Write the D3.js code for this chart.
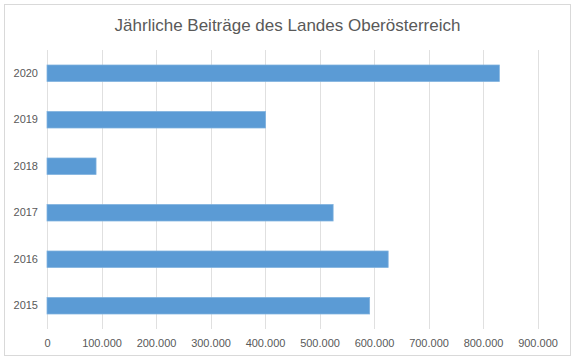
<!DOCTYPE html>
<head>
<meta charset="utf-8">
<style>
  body { margin: 0; background: #fff; }
  svg { display: block; font-family: "Liberation Sans", Arial, sans-serif; }
  text { fill: #595959; }
</style>
</head>
<body>
<svg width="579" height="363"></svg>
<script src="https://cdn.jsdelivr.net/npm/d3@7"></script>
<script>

var title = "Jährliche Beiträge des Landes Oberösterreich";
var years = ["2020", "2019", "2018", "2017", "2016", "2015"];
var values = [830000, 401000, 90000, 525000, 626000, 592000];
var ticks = [0, 100000, 200000, 300000, 400000, 500000, 600000, 700000, 800000, 900000];

var svg = d3.select("svg"),
    margin = {top: 50, right: 33, bottom: 34, left: 47},
    width = +svg.attr("width"),
    height = +svg.attr("height");

// chart frame
svg.append("rect")
    .attr("x", 4.5).attr("y", 4.5)
    .attr("width", 566).attr("height", 351)
    .attr("fill", "#fff")
    .attr("stroke", "#d9d9d9");

svg.append("text")
    .attr("x", 287.5)
    .attr("y", 31)
    .attr("text-anchor", "middle")
    .attr("font-size", 17)
    .text(title);

var x = d3.scaleLinear()
    .domain([0, 900000])
    .range([margin.left, margin.left + 9 * 54.5]);

var y = d3.scaleBand()
    .domain(years)
    .range([margin.top, height - margin.bottom])
    .paddingInner(0.645)
    .paddingOuter(0.3225);

var fmt = function(d) { return d3.format(",")(d).replace(/,/g, "."); };

// gridlines
svg.append("g")
    .selectAll("line")
    .data(ticks)
    .enter().append("line")
      .attr("x1", function(d) { return Math.round(x(d)) + 0.5; })
      .attr("x2", function(d) { return Math.round(x(d)) + 0.5; })
      .attr("y1", margin.top)
      .attr("y2", height - margin.bottom)
      .attr("stroke", "#e0e0e0");

// bars
svg.append("g")
    .selectAll("rect")
    .data(years)
    .enter().append("rect")
      .attr("x", x(0))
      .attr("y", function(d) { return y(d); })
      .attr("width", function(d, i) { return x(values[i]) - x(0); })
      .attr("height", y.bandwidth())
      .attr("fill", "#5b9bd5")
      .attr("stroke", "#7fb1de")
      .attr("stroke-width", 0.75);

// x axis labels
var xAxis = svg.append("g")
    .attr("transform", "translate(0," + (height - margin.bottom) + ")")
    .call(d3.axisBottom(x).tickValues(ticks).tickFormat(fmt).tickSize(0).tickPadding(10));
xAxis.select(".domain").remove();
xAxis.selectAll("text").attr("font-size", 11).attr("fill", "#595959");

// y axis labels
var yAxis = svg.append("g")
    .attr("transform", "translate(" + margin.left + ",0)")
    .call(d3.axisLeft(y).tickSize(0).tickPadding(9));
yAxis.select(".domain").remove();
yAxis.selectAll("text").attr("font-size", 11).attr("fill", "#595959");

</script>
</body>
